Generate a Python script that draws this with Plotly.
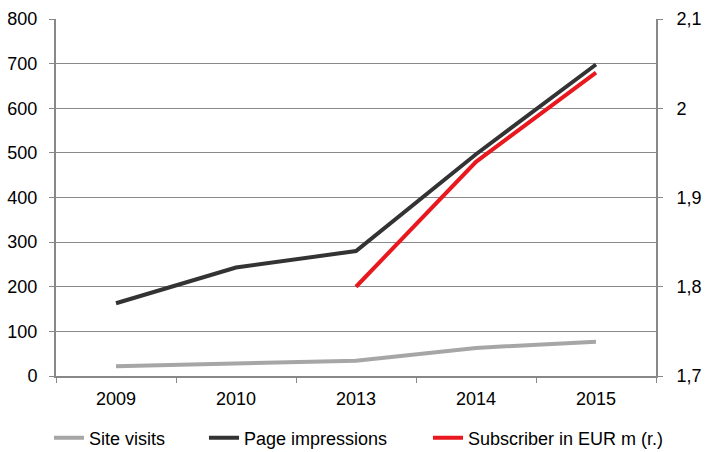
import plotly.graph_objects as go

years = ["2009", "2010", "2013", "2014", "2015"]
site_visits = [22, 27, 34, 63, 77]
page_impressions = [163, 243, 280, 497, 698]
subscriber_years = ["2013", "2014", "2015"]
subscriber = [1.80, 1.94, 2.04]

fig = go.Figure()
fig.add_trace(go.Scatter(x=years, y=site_visits, name="Site visits", mode="lines",
                         line=dict(color="#a6a6a6", width=4), legend="legend"))
fig.add_trace(go.Scatter(x=years, y=page_impressions, name="Page impressions", mode="lines",
                         line=dict(color="#333333", width=4), legend="legend2"))
fig.add_trace(go.Scatter(x=subscriber_years, y=subscriber, name="Subscriber in EUR m (r.)", mode="lines",
                         line=dict(color="#e8181e", width=4), yaxis="y2", legend="legend3"))

font = dict(family="Liberation Sans, Arial, sans-serif", size=18, color="#000000")
# plot area spans 56..656 px horizontally (600 px)
def leg(px):
    return dict(orientation="h", x=(px - 56) / 600, xanchor="left", y=-0.174, yanchor="middle",
                font=dict(size=18), bgcolor="rgba(0,0,0,0)", borderwidth=0)

fig.update_layout(
    width=707, height=452,
    margin=dict(l=56, r=51, t=19, b=76, autoexpand=False),
    paper_bgcolor="white", plot_bgcolor="white",
    font=font,
    separators=", ",
    showlegend=True,
    legend=leg(49),
    legend2=leg(204),
    legend3=leg(428),
    xaxis=dict(type="category", categoryorder="array", categoryarray=years,
               range=[-0.5, 4.5],
               tickson="boundaries", ticks="outside", ticklen=5, tickcolor="#888888",
               ticklabelstandoff=5,
               showline=True, linecolor="#888888", linewidth=2, showgrid=False,
               zeroline=False),
    yaxis=dict(range=[0, 800], dtick=100, showgrid=True, gridcolor="#8a8a8a", gridwidth=1,
               ticks="outside", ticklen=5, tickcolor="#888888", ticklabelstandoff=8,
               showline=True, linecolor="#888888", linewidth=2, zeroline=False),
    yaxis2=dict(range=[1.7, 2.1], dtick=0.1, overlaying="y", side="right",
                showgrid=False, ticks="outside", ticklen=5, tickcolor="#888888",
                ticklabelstandoff=10,
                showline=True, linecolor="#888888", linewidth=2, zeroline=False),
)
fig.write_html("out.html")
